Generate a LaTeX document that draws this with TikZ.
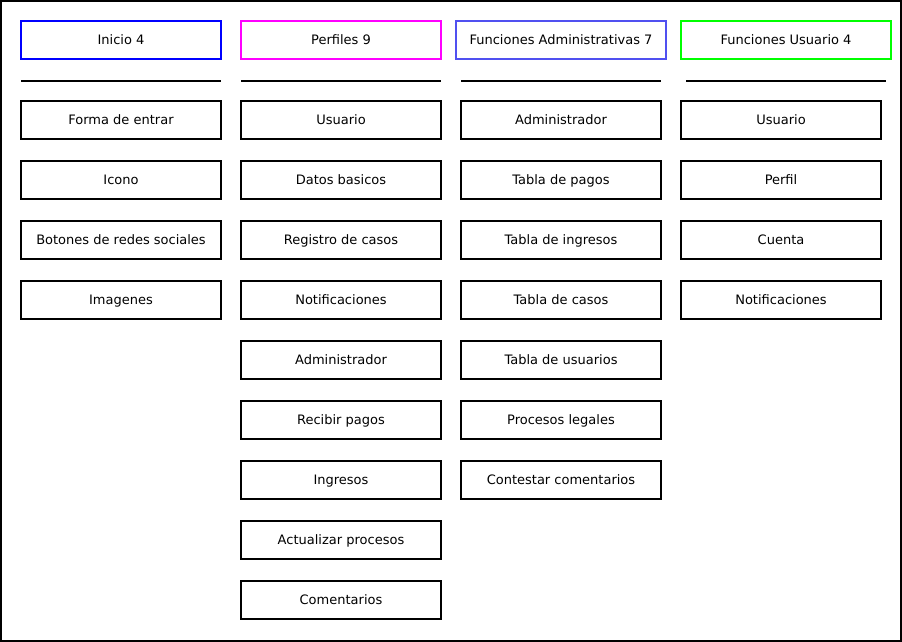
\documentclass[tikz,border=0pt]{standalone}
\usepackage{fontspec}
\setmainfont{DejaVu Sans}
\definecolor{hblue}{HTML}{0000FF}
\definecolor{hmag}{HTML}{FF00FF}
\definecolor{hpurp}{HTML}{5050F0}
\definecolor{hgreen}{HTML}{00FF00}
\begin{document}
\begin{tikzpicture}[x=1pt,y=-1pt,
  every node/.style={outer sep=0pt},
  itembox/.style={draw=black,line width=2pt,minimum width=200pt,minimum height=38pt,inner sep=0pt,anchor=north west,text height=10pt,text depth=1pt,font=\fontsize{13}{15}\selectfont},
  headbox/.style={itembox},
  sepline/.style={line width=2pt}]
\useasboundingbox (0,0) rectangle (902,642);
\node[draw,line width=2pt,minimum width=900pt,minimum height=640pt,anchor=north west,inner sep=0pt] (frame) at (1,1) {};
% headers
\node[headbox,draw=hblue] (h1) at (21,21) {Inicio 4};
\node[headbox,draw=hmag] (h2) at (241,21) {Perfiles 9};
\node[headbox,draw=hpurp,minimum width=210pt] (h3) at (456,21) {Funciones Administrativas 7};
\node[headbox,draw=hgreen,minimum width=210pt] (h4) at (681,21) {Funciones Usuario 4};
% separators
\coordinate (s1a) at (21,81); \coordinate (s1b) at (221,81);
\coordinate (s2a) at (241,81); \coordinate (s2b) at (441,81);
\coordinate (s3a) at (461,81); \coordinate (s3b) at (661,81);
\coordinate (s4a) at (686,81); \coordinate (s4b) at (886,81);
\draw[sepline] (s1a) -- (s1b);
\draw[sepline] (s2a) -- (s2b);
\draw[sepline] (s3a) -- (s3b);
\draw[sepline] (s4a) -- (s4b);
% column 1
\node[itembox] (a1) at (21,101) {Forma de entrar};
\node[itembox] (a2) at (21,161) {Icono};
\node[itembox] (a3) at (21,221) {Botones de redes sociales};
\node[itembox] (a4) at (21,281) {Imagenes};
% column 2
\node[itembox] (b1) at (241,101) {Usuario};
\node[itembox] (b2) at (241,161) {Datos basicos};
\node[itembox] (b3) at (241,221) {Registro de casos};
\node[itembox] (b4) at (241,281) {Notificaciones};
\node[itembox] (b5) at (241,341) {Administrador};
\node[itembox] (b6) at (241,401) {Recibir pagos};
\node[itembox] (b7) at (241,461) {Ingresos};
\node[itembox] (b8) at (241,521) {Actualizar procesos};
\node[itembox] (b9) at (241,581) {Comentarios};
% column 3
\node[itembox] (c1) at (461,101) {Administrador};
\node[itembox] (c2) at (461,161) {Tabla de pagos};
\node[itembox] (c3) at (461,221) {Tabla de ingresos};
\node[itembox] (c4) at (461,281) {Tabla de casos};
\node[itembox] (c5) at (461,341) {Tabla de usuarios};
\node[itembox] (c6) at (461,401) {Procesos legales};
\node[itembox] (c7) at (461,461) {Contestar comentarios};
% column 4
\node[itembox] (d1) at (681,101) {Usuario};
\node[itembox] (d2) at (681,161) {Perfil};
\node[itembox] (d3) at (681,221) {Cuenta};
\node[itembox] (d4) at (681,281) {Notificaciones};
\end{tikzpicture}
\end{document}
